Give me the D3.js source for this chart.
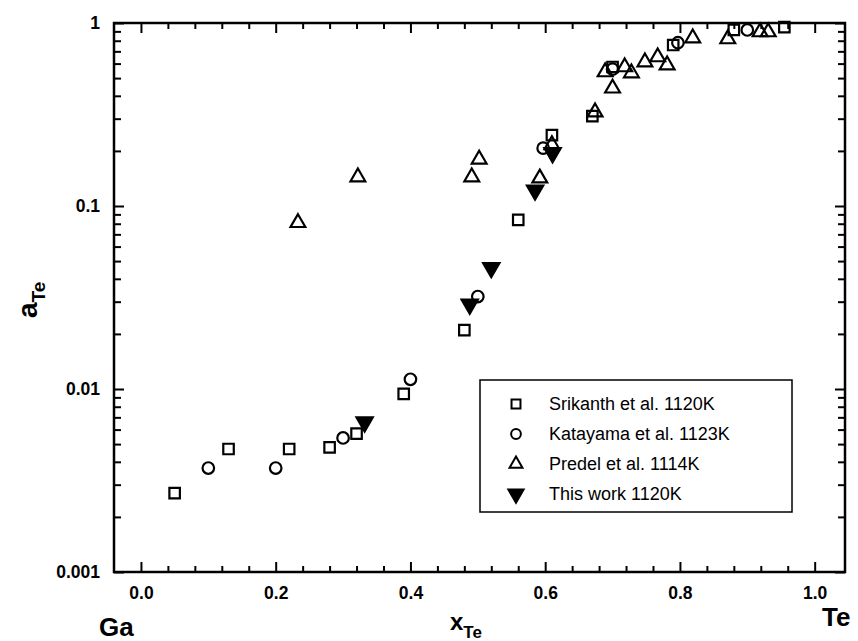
<!DOCTYPE html>
<html>
<head>
<meta charset="utf-8">
<script src="https://cdn.jsdelivr.net/npm/d3@7"></script>
<style>
  body { margin: 0; background: #fff; }
  svg { font-family: "Liberation Sans", Arial, sans-serif; }
</style>
</head>
<body>
<div id="chart"></div>
<script>
// Srikanth et al. 1120K (open squares)
var srikanthX = [0.05, 0.13, 0.22, 0.28, 0.32, 0.39, 0.48, 0.56, 0.61, 0.67, 0.70, 0.79, 0.88, 0.955];
var srikanthY = [0.0027, 0.0047, 0.0047, 0.0048, 0.0057, 0.0094, 0.021, 0.084, 0.244, 0.31, 0.575, 0.758, 0.916, 0.95];
// Katayama et al. 1123K (open circles)
var katayamaX = [0.10, 0.20, 0.30, 0.40, 0.50, 0.597, 0.70, 0.797, 0.90];
var katayamaY = [0.0037, 0.0037, 0.0054, 0.0113, 0.032, 0.207, 0.56, 0.78, 0.916];
// Predel et al. 1114K (open triangles)
var predelX = [0.233, 0.322, 0.491, 0.502, 0.592, 0.61, 0.674, 0.70, 0.689, 0.718, 0.728, 0.748, 0.767, 0.781, 0.819, 0.871, 0.919, 0.931];
var predelY = [0.081, 0.144, 0.144, 0.18, 0.142, 0.216, 0.326, 0.44, 0.54, 0.575, 0.533, 0.612, 0.652, 0.589, 0.828, 0.818, 0.893, 0.893];
// This work 1120K (filled down triangles)
var thisWorkX = [0.332, 0.488, 0.52, 0.585, 0.611];
var thisWorkY = [0.0066, 0.029, 0.046, 0.122, 0.195];

var legendLabels = ['Srikanth et al. 1120K', 'Katayama et al. 1123K', 'Predel et al. 1114K', 'This work 1120K'];
var xTicks = [0.0, 0.2, 0.4, 0.6, 0.8, 1.0];
var yTicks = [0.001, 0.01, 0.1, 1];

var width = 858, height = 641;
// plot frame edges (window.top is reserved, so use own names)
var pLeft = 114, pRight = 845, pTop = 23, pBottom = 572;

var svg = d3.select('#chart').append('svg')
    .attr('width', width)
    .attr('height', height);

var x = d3.scaleLinear().domain([-0.04, 1.045]).range([pLeft, pRight]);
var y = d3.scaleLog().domain([0.001, 1]).range([pBottom, pTop]);

//minor ticks
var xMinor = d3.range(0, 1.0001, 0.04).filter(function(v) {
    return xTicks.every(function(t) { return Math.abs(t - v) > 1e-6; });
});
var yMinor = [];
[0.001, 0.01, 0.1].forEach(function(d) {
    for (var k = 2; k <= 9; k++) yMinor.push(d * k);
});

function fmtX(d) { return d3.format('.1f')(d); }
function fmtY(d) { return d === 1 ? '1' : String(d); }

function styleAxis(g) {
    g.select('.domain').remove();
    g.selectAll('.tick line').attr('stroke', '#000').attr('stroke-width', 2);
    g.selectAll('.tick text')
        .attr('fill', '#000')
        .style('font-size', '17.5px')
        .style('font-weight', 'bold');
}

// axes, ticks pointing inward on all four sides
svg.append('g').attr('transform', 'translate(0,' + pBottom + ')')
    .call(d3.axisBottom(x).tickValues(xTicks).tickSize(-10).tickPadding(15).tickFormat(fmtX))
    .call(styleAxis);
svg.append('g').attr('transform', 'translate(0,' + pBottom + ')')
    .call(d3.axisBottom(x).tickValues(xMinor).tickSize(-6).tickFormat(''))
    .call(styleAxis);
svg.append('g').attr('transform', 'translate(0,' + pTop + ')')
    .call(d3.axisTop(x).tickValues(xTicks).tickSize(-10).tickFormat(''))
    .call(styleAxis);
svg.append('g').attr('transform', 'translate(0,' + pTop + ')')
    .call(d3.axisTop(x).tickValues(xMinor).tickSize(-6).tickFormat(''))
    .call(styleAxis);

svg.append('g').attr('transform', 'translate(' + pLeft + ',0)')
    .call(d3.axisLeft(y).tickValues(yTicks).tickSize(-10).tickPadding(14).tickFormat(fmtY))
    .call(styleAxis);
svg.append('g').attr('transform', 'translate(' + pLeft + ',0)')
    .call(d3.axisLeft(y).tickValues(yMinor).tickSize(-7).tickFormat(''))
    .call(styleAxis);
svg.append('g').attr('transform', 'translate(' + pRight + ',0)')
    .call(d3.axisRight(y).tickValues(yTicks).tickSize(-10).tickFormat(''))
    .call(styleAxis);
svg.append('g').attr('transform', 'translate(' + pRight + ',0)')
    .call(d3.axisRight(y).tickValues(yMinor).tickSize(-7).tickFormat(''))
    .call(styleAxis);

// frame
svg.append('rect')
    .attr('x', pLeft).attr('y', pTop)
    .attr('width', pRight - pLeft).attr('height', pBottom - pTop)
    .attr('fill', 'none').attr('stroke', '#000').attr('stroke-width', 2.5);

// markers
var sym = {
    square: d3.symbol().type(d3.symbolSquare).size(110),
    circle: d3.symbol().type(d3.symbolCircle).size(105),
    triangle: d3.symbol().type(d3.symbolTriangle).size(95),
    down: d3.symbol().type(d3.symbolTriangle).size(115)
};

function drawSeries(xs, ys, shape) {
    var pts = xs.map(function(v, i) { return [v, ys[i]]; });
    svg.append('g').selectAll('path')
        .data(pts)
        .enter().append('path')
        .attr('d', sym[shape])
        .attr('transform', function(d) {
            return 'translate(' + x(d[0]) + ',' + y(d[1]) + ')' + (shape === 'down' ? ' rotate(180)' : '');
        })
        .attr('fill', shape === 'down' ? '#000' : 'none')
        .attr('stroke', '#000')
        .attr('stroke-width', 2.2);
}

drawSeries(srikanthX, srikanthY, 'square');
drawSeries(katayamaX, katayamaY, 'circle');
drawSeries(predelX, predelY, 'triangle');
drawSeries(thisWorkX, thisWorkY, 'down');

// legend
var legend = svg.append('g');
legend.append('rect')
    .attr('x', 480).attr('y', 380)
    .attr('width', 312).attr('height', 132)
    .attr('fill', '#fff').attr('stroke', '#000').attr('stroke-width', 1.5);

var legendShapes = ['square', 'circle', 'triangle', 'down'];
var legendSym = {
    square: d3.symbol().type(d3.symbolSquare).size(80),
    circle: d3.symbol().type(d3.symbolCircle).size(75),
    triangle: d3.symbol().type(d3.symbolTriangle).size(72),
    down: d3.symbol().type(d3.symbolTriangle).size(100)
};
legendLabels.forEach(function(lbl, i) {
    var cy = 404 + i * 30;
    legend.append('path')
        .attr('d', legendSym[legendShapes[i]])
        .attr('transform', 'translate(516,' + cy + ')' + (legendShapes[i] === 'down' ? ' rotate(180)' : ''))
        .attr('fill', legendShapes[i] === 'down' ? '#000' : 'none')
        .attr('stroke', '#000')
        .attr('stroke-width', 2);
    legend.append('text')
        .attr('x', 549).attr('y', cy + 6)
        .style('font-size', '18px')
        .text(lbl);
});

// axis titles
var xt = svg.append('text')
    .attr('x', 450).attr('y', 630)
    .style('font-size', '24px').style('font-weight', 'bold');
xt.append('tspan').text('x');
xt.append('tspan').attr('dy', 8).style('font-size', '17px').text('Te');

var yt = svg.append('text')
    .attr('transform', 'translate(37,318) rotate(-90)')
    .style('font-size', '28px').style('font-weight', 'bold');
yt.append('tspan').text('a');
yt.append('tspan').attr('dy', 8).style('font-size', '19px').text('Te');

svg.append('text')
    .attr('x', 99).attr('y', 636)
    .style('font-size', '26px').style('font-weight', 'bold')
    .text('Ga');
svg.append('text')
    .attr('x', 822).attr('y', 626)
    .style('font-size', '26px').style('font-weight', 'bold')
    .text('Te');
</script>
</body>
</html>
